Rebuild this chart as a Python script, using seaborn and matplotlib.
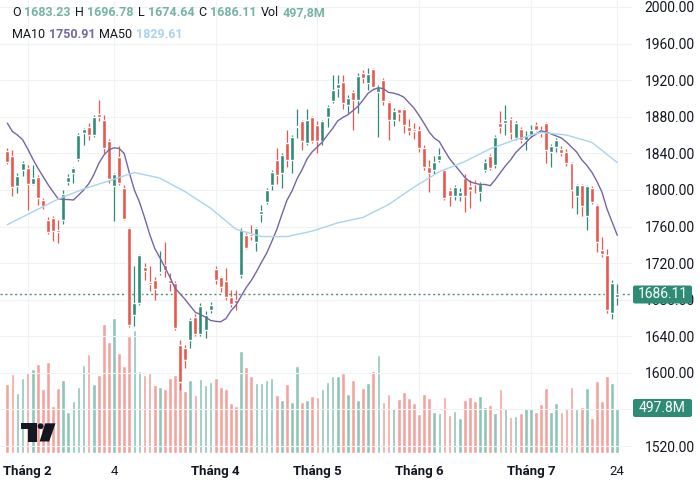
import numpy as np
import pandas as pd
import seaborn as sns
import matplotlib.pyplot as plt
from matplotlib.patches import FancyBboxPatch, Circle, Polygon
from matplotlib.transforms import IdentityTransform

# daily candles (121 sessions)
opens = [1843, 1837, 1804, 1822, 1824, 1807, 1814, 1789, 1767, 1769,
         1756, 1767, 1809, 1818, 1834, 1862, 1869, 1860, 1883, 1876,
         1854, 1804, 1836, 1802, 1758, 1663, 1676, 1716, 1699, 1702,
         1709, 1718, 1702, 1698, 1630, 1627, 1636, 1661, 1643, 1647,
         1669, 1714, 1705, 1700, 1683, 1680, 1707, 1751, 1752, 1743,
         1774, 1787, 1805, 1833, 1818, 1851, 1833, 1869, 1875, 1851,
         1880, 1871, 1853, 1880, 1897, 1911, 1918, 1893, 1907, 1898,
         1928, 1917, 1932, 1907, 1920, 1896, 1877, 1888, 1889, 1869,
         1867, 1866, 1846, 1825, 1822, 1833, 1822, 1800, 1793, 1793,
         1813, 1804, 1807, 1798, 1822, 1837, 1827, 1873, 1873, 1878,
         1857, 1867, 1855, 1860, 1871, 1866, 1873, 1842, 1847, 1845,
         1841, 1829, 1793, 1805, 1772, 1802, 1784, 1734, 1729, 1665,
         1683.23]
highs = [1846, 1844, 1818, 1832, 1827, 1827, 1816, 1791, 1770, 1771,
         1767, 1800, 1817, 1825, 1862, 1868, 1873, 1882, 1898, 1882,
         1856, 1819, 1848, 1805, 1760, 1717, 1730, 1720, 1717, 1705,
         1733, 1743, 1709, 1700, 1636, 1630, 1660, 1664, 1676, 1668,
         1678, 1717, 1706, 1715, 1691, 1691, 1758, 1753, 1762, 1760,
         1784, 1802, 1822, 1846, 1840, 1866, 1860, 1889, 1877, 1888,
         1881, 1875, 1876, 1893, 1926, 1926, 1926, 1904, 1909, 1928,
         1931, 1933, 1933, 1915, 1922, 1897, 1890, 1889, 1890, 1878,
         1873, 1870, 1849, 1833, 1837, 1846, 1823, 1802, 1805, 1802,
         1817, 1811, 1811, 1809, 1834, 1839, 1860, 1886, 1893, 1880,
         1875, 1869, 1864, 1871, 1874, 1870, 1874, 1850, 1857, 1848,
         1845, 1831, 1807, 1807, 1805, 1804, 1785, 1749, 1735, 1702,
         1696.78]
lows = [1828, 1793, 1797, 1815, 1778, 1805, 1783, 1779, 1752, 1744,
        1742, 1763, 1805, 1808, 1832, 1849, 1855, 1858, 1875, 1840,
        1808, 1766, 1805, 1767, 1650, 1651, 1674, 1702, 1690, 1680,
        1707, 1705, 1690, 1647, 1581, 1605, 1627, 1640, 1640, 1638,
        1665, 1697, 1688, 1680, 1672, 1669, 1704, 1735, 1745, 1733,
        1765, 1785, 1800, 1807, 1802, 1825, 1818, 1857, 1844, 1849,
        1851, 1840, 1849, 1869, 1895, 1902, 1888, 1884, 1866, 1884,
        1917, 1909, 1911, 1858, 1893, 1855, 1870, 1875, 1862, 1860,
        1856, 1842, 1822, 1798, 1817, 1830, 1789, 1782, 1789, 1788,
        1776, 1780, 1797, 1788, 1820, 1822, 1824, 1862, 1860, 1856,
        1855, 1851, 1844, 1858, 1864, 1858, 1829, 1825, 1841, 1837,
        1826, 1780, 1774, 1772, 1756, 1785, 1732, 1727, 1665, 1659,
        1674.64]
closes = [1831, 1803, 1815, 1829, 1807, 1813, 1791, 1782, 1754, 1755,
          1754, 1796, 1814, 1824, 1860, 1867, 1860, 1880, 1880, 1846,
          1812, 1817, 1808, 1768, 1652, 1676, 1729, 1711, 1697, 1692,
          1710, 1712, 1698, 1649, 1590, 1614, 1658, 1642, 1673, 1663,
          1674, 1702, 1694, 1683, 1675, 1676, 1756, 1737, 1750, 1758,
          1777, 1800, 1820, 1816, 1838, 1833, 1858, 1870, 1853, 1877,
          1853, 1853, 1875, 1891, 1909, 1916, 1895, 1900, 1898, 1925,
          1922, 1927, 1913, 1913, 1897, 1877, 1886, 1884, 1871, 1864,
          1864, 1846, 1825, 1819, 1831, 1838, 1791, 1793, 1803, 1798,
          1793, 1800, 1806, 1807, 1831, 1824, 1858, 1869, 1877, 1862,
          1873, 1855, 1859, 1866, 1866, 1862, 1844, 1848, 1855, 1840,
          1829, 1800, 1805, 1782, 1804, 1787, 1743, 1730, 1669, 1698,
          1686.11]
# volume in millions
volumes = [757, 863, 655, 826, 892, 917, 972, 703, 997, 517,
           717, 801, 448, 575, 728, 965, 1085, 757, 855, 1412,
           1219, 1474, 1099, 954, 1281, 1347, 899, 855, 874, 746,
           721, 699, 819, 855, 783, 684, 801, 637, 815, 746,
           783, 826, 728, 699, 553, 517, 1121, 939, 848, 764,
           772, 801, 819, 637, 582, 757, 557, 954, 564, 582,
           626, 619, 699, 783, 848, 844, 874, 648, 801, 582,
           710, 772, 903, 1077, 557, 648, 499, 593, 666, 601,
           553, 430, 648, 601, 448, 437, 612, 419, 462, 382,
           582, 619, 571, 626, 502, 528, 437, 699, 491, 400,
           408, 437, 499, 491, 448, 535, 710, 455, 546, 455,
           491, 728, 480, 510, 717, 382, 794, 575, 844, 764,
           497.8]

# MA10 before enough visible sessions exist
ma10_head = [1873, 1864, 1860, 1855, 1845, 1834, 1824, 1815, 1806]
# MA50 read every 5 sessions
ma50_idx = list(range(0, 121, 5))
ma50_vals = [1762, 1776, 1790, 1801, 1810, 1819, 1813, 1798, 1780, 1757,
             1749, 1749, 1755, 1764, 1770, 1784, 1803, 1820, 1831, 1845,
             1855, 1863, 1860, 1852, 1830]

tick_pos = [4, 21, 41, 61, 81, 103, 120]
tick_labels = ["Tháng 2", "4", "Tháng 4", "Tháng 5", "Tháng 6", "Tháng 7", "24"]
price_ticks = list(range(1520, 2001, 40))

UP, DOWN = "#2e8b76", "#e8564c"
UP_VOL, DOWN_VOL = "#8fc5b8", "#f3a39e"
MA10_C, MA50_C = "#7565a6", "#a9d4ee"
TXT = "#131722"

df = pd.DataFrame({"o": opens, "h": highs, "l": lows, "c": closes, "vol": volumes})
df["idx"] = np.arange(len(df))
df["dir"] = np.where(df["c"] >= df["o"], "up", "down")
ma10 = df["c"].rolling(10).mean()
ma10.iloc[:9] = ma10_head
df["ma10"] = ma10

sns.set_theme(style="white")
plt.rcParams["font.family"] = ["Roboto", "DejaVu Sans"]

W, H = 700, 488
fig = plt.figure(figsize=(7, 4.88), dpi=100)
ax_vol = fig.add_axes([0, 33 / H, 632 / W, 455 / H])
ax = ax_vol.twinx()

# volume bars
sns.barplot(data=df, x="idx", y="vol", hue="dir", palette={"up": UP_VOL, "down": DOWN_VOL},
            dodge=False, width=0.72, saturation=1, legend=False, native_scale=True, ax=ax_vol)
ax_vol.set_ylim(-18.6, 4950)
ax_vol.set_yticks([])

# candles
cols = np.where(df["dir"] == "up", UP, DOWN)
ax.vlines(df["idx"], df["l"], df["h"], colors=cols, linewidth=0.9, zorder=2)
body = (df["c"] - df["o"]).abs().clip(lower=1.2)
ax.bar(df["idx"], body, bottom=np.minimum(df["o"], df["c"]), width=0.78, color=cols, zorder=3)

sns.lineplot(x=df["idx"], y=df["ma10"], color=MA10_C, linewidth=1.0, ax=ax, zorder=4)
sns.lineplot(x=ma50_idx, y=ma50_vals, color=MA50_C, linewidth=1.0, ax=ax, zorder=4)

last = closes[-1]
ax.axhline(last, color="#4a8a80", linestyle=(0, (1.5, 2)), linewidth=1, zorder=1)

ax.set_ylim(1510.2, 2007.65)
ax.set_xlim(-1.436, 122.9)
# 1560 sits fully under the volume tag in the original
ax.set_yticks(price_ticks, ["" if v == 1560 else f"{v:.2f}" for v in price_ticks])
ax.tick_params(axis="y", length=0, pad=9, labelsize=10, labelcolor=TXT)
ax_vol.set_xticks(tick_pos, tick_labels)
ax_vol.tick_params(axis="x", length=0, pad=7, labelsize=9.5, labelcolor=TXT)
for lbl in ax_vol.get_xticklabels():
    if lbl.get_text().startswith("Tháng"):
        lbl.set_fontweight("bold")
ax.grid(axis="y", color="#f1f2f5", linewidth=0.8)
ax_vol.grid(axis="x", color="#f1f2f5", linewidth=0.8)
for a in (ax, ax_vol):
    a.set_xlabel("")
    a.set_ylabel("")
    for s in a.spines.values():
        s.set_visible(False)

# right-side value tags
def tag(y_img, text):
    box = FancyBboxPatch((633, H - y_img - 9), 59, 18, boxstyle="round,pad=0,rounding_size=2",
                         facecolor=UP, edgecolor="none", transform=IdentityTransform(), zorder=10)
    fig.add_artist(box)
    fig.text(662.5 / W, 1 - y_img / H, text, color="white", fontsize=10,
             ha="center", va="center", zorder=11)

tag(294.5, f"{last:.2f}")
tag(408, "497.8M")

# header legend
renderer = fig.canvas.get_renderer()

def header(y_img, pieces):
    x = 12
    for s, col, w in pieces:
        t = fig.text(x / W, 1 - y_img / H, s, color=col, fontsize=9, fontweight=w,
                     ha="left", va="center")
        x = t.get_window_extent(renderer).x1 + 3.8

VAL = "#75b3a4"
header(13, [("O", TXT, "normal"), ("1683.23", VAL, "bold"), ("H", TXT, "normal"),
            ("1696.78", VAL, "bold"), ("L", TXT, "normal"), ("1674.64", VAL, "bold"),
            ("C", TXT, "normal"), ("1686.11", VAL, "bold"), ("Vol", TXT, "normal"),
            ("497,8M", VAL, "bold")])
header(34, [("MA10", TXT, "normal"), ("1750.91", MA10_C, "bold"),
            ("MA50", TXT, "normal"), ("1829.61", MA50_C, "bold")])

# TradingView mark
def px(x, y):
    return (x, H - y)

logo = [Polygon([px(20.7, 423.3), px(37.3, 423.3), px(37.3, 441.5), px(28.3, 441.5),
                 px(28.3, 429), px(20.7, 429)], closed=True),
        Circle(px(40.6, 426.2), 2.9),
        Polygon([px(45.2, 423.3), px(55.5, 423.3), px(49.2, 441.5), px(39.6, 441.5)], closed=True)]
for p in logo:
    p.set_facecolor("#131722")
    p.set_edgecolor("none")
    p.set_transform(IdentityTransform())
    fig.add_artist(p)

fig.savefig("out.png", dpi=100)
